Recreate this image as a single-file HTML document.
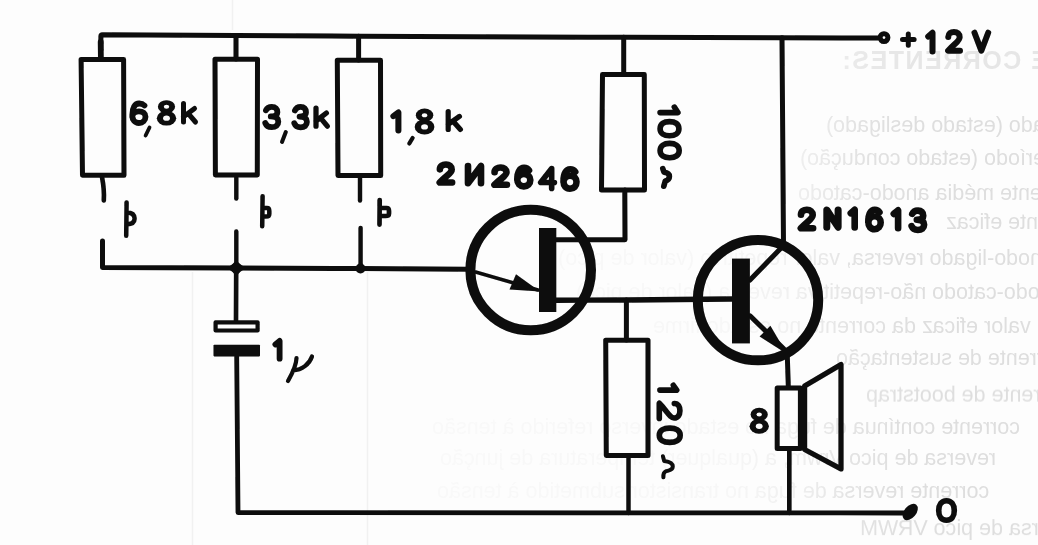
<!DOCTYPE html>
<html>
<head>
<meta charset="utf-8">
<title>Circuit</title>
<style>
html,body{margin:0;padding:0;background:#fdfdfd;}
body{width:1038px;height:545px;overflow:hidden;position:relative;font-family:"Liberation Sans",sans-serif;}
svg{position:absolute;left:0;top:0;display:block;}
.w{stroke:#0a0a0a;stroke-width:5;fill:none;stroke-linecap:round;stroke-linejoin:round;}
.r{stroke:#0a0a0a;stroke-width:5;fill:none;stroke-linejoin:round;}
.f{fill:#0a0a0a;stroke:none;}
.g{font-family:"Liberation Sans",sans-serif;fill:#dedede;}
</style>
</head>
<body>
<svg width="1038" height="545" viewBox="0 0 1038 545">
<rect x="0" y="0" width="1038" height="545" fill="#fdfdfd"/>

<defs>
<filter id="gb" x="-5%" y="-20%" width="110%" height="140%"><feGaussianBlur stdDeviation="0.7"/></filter>
<linearGradient id="gg" gradientUnits="userSpaceOnUse" x1="420" y1="0" x2="1038" y2="0">
<stop offset="0" stop-color="#fff" stop-opacity="0.12"/>
<stop offset="0.5" stop-color="#fff" stop-opacity="0.18"/>
<stop offset="0.6" stop-color="#fff" stop-opacity="0.4"/>
<stop offset="0.7" stop-color="#fff" stop-opacity="0.85"/>
<stop offset="0.8" stop-color="#fff" stop-opacity="1"/>
<stop offset="1" stop-color="#fff" stop-opacity="1"/>
</linearGradient>
<mask id="gm" maskUnits="userSpaceOnUse" x="0" y="0" width="1038" height="545"><rect x="0" y="0" width="1038" height="545" fill="url(#gg)"/></mask>
</defs>
<g mask="url(#gm)"><g class="g" filter="url(#gb)">
<text transform="translate(841,69) scale(-1,1)" text-anchor="end" x="0" y="0" font-size="25" font-weight="bold" letter-spacing="1.5" fill="#e6e6e6">TENSÕES E CORRENTES:</text>
<text transform="translate(826,132.0) scale(-1,1)" text-anchor="end" x="0" y="0" font-size="21.5">corrente no-estado (estado desligado)</text>
<text transform="translate(800,165.1) scale(-1,1)" text-anchor="end" x="0" y="0" font-size="21.5">corrente no-período (estado condução)</text>
<text transform="translate(798,200.3) scale(-1,1)" text-anchor="end" x="0" y="0" font-size="21.5">corrente média anodo-catodo</text>
<text transform="translate(946,228.6) scale(-1,1)" text-anchor="end" x="0" y="0" font-size="21.5">corrente eficaz</text>
<text transform="translate(558,265.1) scale(-1,1)" text-anchor="end" x="0" y="0" font-size="21.5">tensão de anodo-ligado reversa, valor repetitivo (valor de pico)</text>
<text transform="translate(576,299.2) scale(-1,1)" text-anchor="end" x="0" y="0" font-size="21.5">tensão anodo-catodo não-repetitiva reversa (valor de pico)</text>
<text transform="translate(653,333.1) scale(-1,1)" text-anchor="end" x="0" y="0" font-size="21.5">valor eficaz da corrente no estado firme</text>
<text transform="translate(836,365.1) scale(-1,1)" text-anchor="end" x="0" y="0" font-size="21.5">corrente de sustentação</text>
<text transform="translate(866,401.6) scale(-1,1)" text-anchor="end" x="0" y="0" font-size="21.5">corrente de bootstrap</text>
<text transform="translate(432,434.1) scale(-1,1)" text-anchor="end" x="0" y="0" font-size="21.5">corrente contínua de fuga no estado inverso referido à tensão</text>
<text transform="translate(440,465.1) scale(-1,1)" text-anchor="end" x="0" y="0" font-size="21.5">reversa de pico Vrwm, a (qualquer) temperatura de junção</text>
<text transform="translate(437,497.6) scale(-1,1)" text-anchor="end" x="0" y="0" font-size="21.5">corrente reversa de fuga no transistor submetido à tensão</text>
<text transform="translate(860,535.1) scale(-1,1)" text-anchor="end" x="0" y="0" font-size="21.5">reversa de pico VRWM</text>
</g></g>
<path d="M367.5 272 L367.5 545 M192.5 272 L192.5 545 M232.5 0 L232.5 30" stroke="#f1f1f1" stroke-width="1.5" fill="none"/>

<filter id="ink" x="-2%" y="-2%" width="104%" height="104%"><feGaussianBlur stdDeviation="0.45"/></filter>
<g filter="url(#ink)">
<!-- WIRES -->
<g class="w">
  <!-- top rail -->
  <path d="M100.9 59 L100.7 42" style="stroke-width:5.8"/>
  <path d="M100.8 50 L100.9 36.2 Q101 34.8 102.5 34.8 L236 35.4 L358.6 36.2 L623.7 37.3 L782 37.8 L878 38"/>
  <!-- mid rail -->
  <path d="M102.5 241 L102.5 267.6 L236.3 268 L360.5 268.6 L466 269.3"/>
  <!-- bottom rail -->
  <path d="M236.7 356 L238 512.6 L628.5 512.9 L789.3 512.9 L905 513" style="stroke-width:4.8"/>
  <!-- R1 lead -->
  <path d="M102 177 Q104.5 190 103.8 200.5" style="stroke-width:4.6"/>
  <!-- R2 leads -->
  <path d="M236 35.4 L236 59"/>
  <path d="M236.3 177 L236.3 198.5" style="stroke-width:4.4"/>
  <path d="M236.3 231.5 L236.3 268" style="stroke-width:4.4"/>
  <!-- R3 leads -->
  <path d="M358.6 36.2 L358.6 60"/>
  <path d="M360 178 L360 200.5" style="stroke-width:4.4"/>
  <path d="M360.6 228 L360.6 268" style="stroke-width:4.4"/>
  <!-- cap lead -->
  <path d="M236.2 268 L236 321" style="stroke-width:4.6"/>
  <!-- R4 leads -->
  <path d="M623.7 37.3 L623.7 74"/>
  <path d="M624.8 190 L625 239.7 L556 239.7"/>
  <!-- B1 -->
  <path d="M556 300.3 L626 300 L732 299" style="stroke-width:5.4"/>
  <path d="M626.4 300 L626.4 340"/>
  <path d="M628.5 456 L628.5 513" style="stroke-width:4.5"/>
  <!-- collector rail -->
  <path d="M782 37.8 L783.5 245"/>
  <!-- speaker leads -->
  <path d="M787.3 356 L788.3 386"/>
  <path d="M789.3 450 L789.3 513" style="stroke-width:4.6"/>
</g>

<!-- RESISTORS -->
<g class="r">
  <path d="M81.1 59.5 L123.6 59.5 L124 175.3 L82.5 175.3 Z"/>
  <path d="M215 59.3 L257.5 59.3 L257.3 175 L215.4 175 Z"/>
  <path d="M337.3 60.2 L380.5 60.2 L380.7 175.4 L338 175.4 Z"/>
  <path d="M602.5 74.5 L644.3 74.5 L644.5 190 L601.5 190 Z"/>
  <path d="M605.7 340.2 L648 340.2 L648 455.4 L606.3 455.4 Z"/>
</g>

<!-- SWITCHES -->
<g class="w" style="stroke-width:4.5">
  <path d="M126.6 202.4 L126.2 235.8 M126.4 212.4 C132 212.4 134.6 215 134.6 218.6 C134.6 222.4 132 224.4 126.4 224.4"/>
  <path d="M262.6 196.3 L262.2 226.2 M262.4 208 L267 208 Q269.3 208 269.3 211 L269.3 214 Q269.3 216.6 266 216.6 L262.4 216.6"/>
  <path d="M379.7 200 L379.5 224.6 M379.6 208 L386.5 208 Q389 208 389 211 L389 213.5 Q389 216 385.5 216 L379.6 216" style="stroke-width:4.7"/>
</g>

<!-- JUNCTIONS -->
<path class="f" d="M226.5 268 Q233 265 236.3 259.5 Q239.5 265 246.5 268 Q239.5 271 236.3 277 Q233 271 226.5 268 Z"/>
<circle class="f" cx="236.3" cy="268" r="5.2"/>
<circle class="f" cx="360.5" cy="268.5" r="5"/>

<!-- CAPACITOR -->
<rect x="215.6" y="322.3" width="42" height="8.2" fill="#fdfdfd" stroke="#0a0a0a" stroke-width="4.2" stroke-linejoin="round"/>
<rect class="f" x="213.5" y="344.8" width="46.5" height="11.6" rx="0.8"/>

<!-- UJT -->
<circle cx="530.7" cy="270" r="60.3" fill="none" stroke="#0a0a0a" stroke-width="10"/>
<rect class="f" x="539" y="228" width="17.3" height="84"/>
<path class="w" style="stroke-width:3.6" d="M475.6 272 L538 290"/>
<path class="f" d="M540 291.5 L516 274.3 L509.5 289.5 Z"/>

<!-- NPN -->
<circle cx="758" cy="300.1" r="60.2" fill="none" stroke="#0a0a0a" stroke-width="10"/>
<rect class="f" x="732" y="258.6" width="17.9" height="84.8"/>
<path class="w" d="M750 280 L783.5 245.6"/>
<path class="w" d="M750 315.8 L784 349"/>
<path class="f" d="M787 354 L759.6 336.6 L770.4 325.8 Z"/>

<!-- SPEAKER -->
<path class="r" d="M777.2 388 L800.4 388 L800.4 448.6 L777.2 448.6 Z"/>
<path class="w" d="M804.6 386 L841 364.5 L841 469 L804.6 449.5 Z" style="stroke-width:5.2"/>

<!-- TERMINALS -->
<circle cx="884" cy="37.6" r="3.9" fill="#fdfdfd" stroke="#0a0a0a" stroke-width="5"/>
<ellipse class="f" cx="910.2" cy="512" rx="9.5" ry="6" transform="rotate(-50 910.2 512)"/>

<path d="M 144.44 105.45 C 142.86 103.89 141.28 103.5 139.16 103.5 C 134.94 103.5 132.3 107.79 132.3 115.2 C 132.3 120.08 134.94 123 138.9 123 C 142.86 123 145.5 120.47 145.5 116.76 C 145.5 113.25 142.86 111.3 138.9 111.3 C 135.2 111.3 132.3 113.25 132.3 116.76" fill="none" stroke="#0a0a0a" stroke-width="5.8" stroke-linecap="round" stroke-linejoin="round"/>
<ellipse cx="166.5" cy="106.7" rx="8.6" ry="6.5" fill="#0a0a0a"/>
<ellipse cx="166.5" cy="118.2" rx="9.7" ry="7.4" fill="#0a0a0a"/>
<ellipse cx="166.5" cy="106.8" rx="2.7" ry="2" fill="#fdfdfd"/>
<ellipse cx="166.5" cy="118.2" rx="3.4" ry="2.6" fill="#fdfdfd"/>
<path d="M 183.5 103.5 L 183.5 122 M 194.54 108.5 L 183.5 116.82 M 188.06 113.31 L 195.5 122" fill="none" stroke="#0a0a0a" stroke-width="5" stroke-linecap="round" stroke-linejoin="round"/>
<path d="M149.5 127.5 L145.6 135.5" fill="none" stroke="#0a0a0a" stroke-width="3.8" stroke-linecap="round" stroke-linejoin="round"/>
<path d="M 265.95 110.33 C 267.25 107.71 269.2 106.9 271.8 106.9 C 275.44 106.9 277.39 108.92 277.39 112.15 C 277.39 114.98 275.05 116.39 270.76 116.39 C 275.7 116.39 278.3 118.21 278.3 121.65 C 278.3 125.08 275.7 127.1 271.8 127.1 C 268.55 127.1 266.34 125.69 265.3 123.06" fill="none" stroke="#0a0a0a" stroke-width="5.8" stroke-linecap="round" stroke-linejoin="round"/>
<path d="M 294.93 110.39 C 296.19 107.72 298.08 106.9 300.6 106.9 C 304.13 106.9 306.02 108.95 306.02 112.23 C 306.02 115.1 303.75 116.54 299.59 116.54 C 304.38 116.54 306.9 118.38 306.9 121.87 C 306.9 125.35 304.38 127.4 300.6 127.4 C 297.45 127.4 295.31 125.97 294.3 123.3" fill="none" stroke="#0a0a0a" stroke-width="5.8" stroke-linecap="round" stroke-linejoin="round"/>
<path d="M 316 108.1 L 316 126.2 M 326.4 112.99 L 316 121.13 M 320.29 117.69 L 327.3 126.2" fill="none" stroke="#0a0a0a" stroke-width="5.2" stroke-linecap="round" stroke-linejoin="round"/>
<path d="M285.8 132 L282 142" fill="none" stroke="#0a0a0a" stroke-width="4" stroke-linecap="round" stroke-linejoin="round"/>
<path d="M 393.4 116.12 L 398.4 112.5 L 398.4 130.6" fill="none" stroke="#0a0a0a" stroke-width="6" stroke-linecap="round" stroke-linejoin="round"/>
<ellipse cx="424.55" cy="115.2" rx="8.73" ry="6.6" fill="#0a0a0a"/>
<ellipse cx="424.55" cy="126.88" rx="9.85" ry="7.52" fill="#0a0a0a"/>
<ellipse cx="424.55" cy="115.3" rx="2.74" ry="2.03" fill="#fdfdfd"/>
<ellipse cx="424.55" cy="126.88" rx="3.45" ry="2.64" fill="#fdfdfd"/>
<path d="M 448.2 111.6 L 448.2 129.4 M 459.42 116.41 L 448.2 124.42 M 452.84 121.03 L 460.4 129.4" fill="none" stroke="#0a0a0a" stroke-width="5.2" stroke-linecap="round" stroke-linejoin="round"/>
<path d="M412.6 138 L409.3 143.5" fill="none" stroke="#0a0a0a" stroke-width="4.2" stroke-linecap="round" stroke-linejoin="round"/>
<path d="M 439.88 169.36 C 439.88 165.94 442.65 164.5 445.8 164.5 C 449.33 164.5 451.72 166.3 451.72 169.54 C 451.72 173.5 446.43 175.3 439.75 182.5 L 452.1 182.5" fill="none" stroke="#0a0a0a" stroke-width="6.6" stroke-linecap="round" stroke-linejoin="round"/>
<path d="M 468 166 L 468 183.3 L 481 166 L 481 183.3" fill="none" stroke="#0a0a0a" stroke-width="6.6" stroke-linecap="round" stroke-linejoin="round"/>
<path d="M 494.58 172.17 C 494.58 168.88 497.38 167.5 500.55 167.5 C 504.11 167.5 506.52 169.23 506.52 172.34 C 506.52 176.15 501.19 177.88 494.45 184.8 L 506.9 184.8" fill="none" stroke="#0a0a0a" stroke-width="6.6" stroke-linecap="round" stroke-linejoin="round"/>
<path d="M 529 170.31 C 527.7 168.46 526.14 167.9 524.06 167.9 C 519.9 167.9 517.3 171.97 517.3 179.37 C 517.3 183.81 519.9 186.4 523.8 186.4 C 527.7 186.4 530.3 183.81 530.3 180.11 C 530.3 176.41 527.7 174 523.8 174 C 520.55 174 517.95 176.04 517.3 179.37" fill="none" stroke="#0a0a0a" stroke-width="6.6" stroke-linecap="round" stroke-linejoin="round"/>
<path d="M 551.66 188.4 L 551.66 168.6 L 540.7 182.46 L 554.4 182.46" fill="none" stroke="#0a0a0a" stroke-width="5.6" stroke-linecap="round" stroke-linejoin="round"/>
<path d="M 575.2 171.82 C 573.9 169.88 572.34 169.3 570.26 169.3 C 566.1 169.3 563.5 173.57 563.5 181.33 C 563.5 185.98 566.1 188.7 570 188.7 C 573.9 188.7 576.5 185.98 576.5 182.1 C 576.5 178.22 573.9 175.7 570 175.7 C 566.75 175.7 564.15 177.84 563.5 181.33" fill="none" stroke="#0a0a0a" stroke-width="6.6" stroke-linecap="round" stroke-linejoin="round"/>
<path d="M 800.97 214.8 C 800.97 211.28 803.72 209.8 806.85 209.8 C 810.35 209.8 812.73 211.65 812.73 214.98 C 812.73 219.05 807.48 220.9 800.85 228.3 L 813.1 228.3" fill="none" stroke="#0a0a0a" stroke-width="6.6" stroke-linecap="round" stroke-linejoin="round"/>
<path d="M 826.8 227.2 L 826.8 210 L 838.1 227.2 L 838.1 210" fill="none" stroke="#0a0a0a" stroke-width="7" stroke-linecap="round" stroke-linejoin="round"/>
<path d="M 850.8 213.32 L 854.7 209.8 L 854.7 227.4" fill="none" stroke="#0a0a0a" stroke-width="6.6" stroke-linecap="round" stroke-linejoin="round"/>
<path d="M 879.46 212.32 C 878.22 210.38 876.73 209.8 874.75 209.8 C 870.78 209.8 868.3 214.07 868.3 221.83 C 868.3 226.48 870.78 229.2 874.5 229.2 C 878.22 229.2 880.7 226.48 880.7 222.6 C 880.7 218.72 878.22 216.2 874.5 216.2 C 871.4 216.2 868.92 218.34 868.3 221.83" fill="none" stroke="#0a0a0a" stroke-width="6.6" stroke-linecap="round" stroke-linejoin="round"/>
<path d="M 893.8 213.9 L 898.1 210.3 L 898.1 228.3" fill="none" stroke="#0a0a0a" stroke-width="6.6" stroke-linecap="round" stroke-linejoin="round"/>
<path d="M 912.22 213.9 C 913.47 211.38 915.35 210.6 917.85 210.6 C 921.35 210.6 923.23 212.54 923.23 215.64 C 923.23 218.36 920.98 219.72 916.85 219.72 C 921.6 219.72 924.1 221.46 924.1 224.76 C 924.1 228.06 921.6 230 917.85 230 C 914.72 230 912.6 228.64 911.6 226.12" fill="none" stroke="#0a0a0a" stroke-width="6.6" stroke-linecap="round" stroke-linejoin="round"/>
<path d="M 902.5 39.55 L 914.1 39.55 M 908.3 33.9 L 908.3 45.2" fill="none" stroke="#0a0a0a" stroke-width="5" stroke-linecap="round" stroke-linejoin="round"/>
<path d="M 928.2 36.48 L 932.5 32.7 L 932.5 51.6" fill="none" stroke="#0a0a0a" stroke-width="6" stroke-linecap="round" stroke-linejoin="round"/>
<path d="M 948.26 36.98 C 948.26 33.4 950.92 31.9 953.95 31.9 C 957.34 31.9 959.64 33.78 959.64 37.16 C 959.64 41.3 954.55 43.18 948.14 50.7 L 960 50.7" fill="none" stroke="#0a0a0a" stroke-width="6" stroke-linecap="round" stroke-linejoin="round"/>
<path d="M 974.5 32.7 L 981.35 50.7 L 988.2 32.7" fill="none" stroke="#0a0a0a" stroke-width="6" stroke-linecap="round" stroke-linejoin="round"/>
<ellipse cx="759.2" cy="414.45" rx="8.6" ry="6.65" fill="#0a0a0a"/>
<ellipse cx="759.2" cy="426.23" rx="9.7" ry="7.57" fill="#0a0a0a"/>
<ellipse cx="759.2" cy="414.56" rx="2.7" ry="2.05" fill="#fdfdfd"/>
<ellipse cx="759.2" cy="426.23" rx="3.4" ry="2.66" fill="#fdfdfd"/>
<path d="M 946.5 500.7 C 941.35 500.7 938.7 504.62 938.7 510.5 C 938.7 516.38 941.35 520.3 946.5 520.3 C 951.65 520.3 954.3 516.38 954.3 510.5 C 954.3 504.62 951.65 500.7 946.5 500.7 Z" fill="none" stroke="#0a0a0a" stroke-width="5.6" stroke-linecap="round" stroke-linejoin="round"/>
<path d="M 275.4 344.46 L 279.6 340.9 L 279.6 358.7" fill="none" stroke="#0a0a0a" stroke-width="5.8" stroke-linecap="round" stroke-linejoin="round"/>
<path d="M296.5 358 C296.3 366 292 374 288 381 M293 370.5 C302 370 309.5 364 312 356.5" fill="none" stroke="#0a0a0a" stroke-width="4.2" stroke-linecap="round" stroke-linejoin="round"/>
<g transform="translate(682,0) rotate(90)">
<path d="M 107.1 7.66 L 112.6 4.1 L 112.6 21.9" fill="none" stroke="#0a0a0a" stroke-width="5.6" stroke-linecap="round" stroke-linejoin="round"/>
<path d="M 128.7 3.1 C 124.01 3.1 121.6 6.86 121.6 12.5 C 121.6 18.14 124.01 21.9 128.7 21.9 C 133.39 21.9 135.8 18.14 135.8 12.5 C 135.8 6.86 133.39 3.1 128.7 3.1 Z" fill="none" stroke="#0a0a0a" stroke-width="5.6" stroke-linecap="round" stroke-linejoin="round"/>
<path d="M 150.55 2.8 C 145.83 2.8 143.4 6.62 143.4 12.35 C 143.4 18.08 145.83 21.9 150.55 21.9 C 155.27 21.9 157.7 18.08 157.7 12.35 C 157.7 6.62 155.27 2.8 150.55 2.8 Z" fill="none" stroke="#0a0a0a" stroke-width="5.6" stroke-linecap="round" stroke-linejoin="round"/>
</g>
<g transform="translate(683,0) rotate(90)">
<path d="M 385.3 9.66 L 390.1 6.3 L 390.1 23.1" fill="none" stroke="#0a0a0a" stroke-width="5.6" stroke-linecap="round" stroke-linejoin="round"/>
<path d="M 403.46 8.66 C 403.46 4.75 406.85 3.1 410.7 3.1 C 415.01 3.1 417.94 5.16 417.94 8.87 C 417.94 13.4 411.47 15.46 403.31 23.7 L 418.4 23.7" fill="none" stroke="#0a0a0a" stroke-width="5.6" stroke-linecap="round" stroke-linejoin="round"/>
<path d="M 435.25 2.8 C 430.53 2.8 428.1 6.98 428.1 13.25 C 428.1 19.52 430.53 23.7 435.25 23.7 C 439.97 23.7 442.4 19.52 442.4 13.25 C 442.4 6.98 439.97 2.8 435.25 2.8 Z" fill="none" stroke="#0a0a0a" stroke-width="5.6" stroke-linecap="round" stroke-linejoin="round"/>
</g>
<path d="M662.8 168.6 L664 172.2 C668.2 172.6 669.4 174.5 669.4 176.4 C669.4 178.6 667.8 180.2 665.2 181.2 L663.8 186.2" fill="none" stroke="#0a0a0a" stroke-width="5.6" stroke-linecap="round" stroke-linejoin="round"/>
<path d="M662.9 456.2 L664.2 461 C668 461.5 672.8 462.5 672.8 466.5 C672.8 470.5 668 470.5 665.5 471.5 C663.5 472.5 663.2 474.5 663.4 477.3" fill="none" stroke="#0a0a0a" stroke-width="4" stroke-linecap="round" stroke-linejoin="round"/>
</g>

</svg>
</body>
</html>
